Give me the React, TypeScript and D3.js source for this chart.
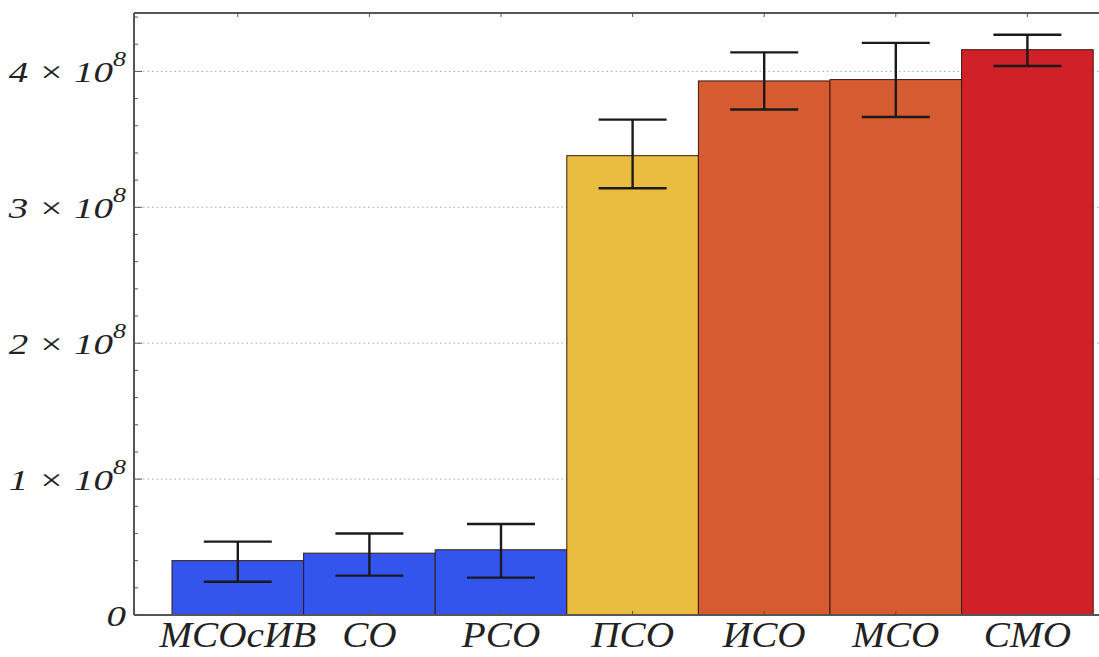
import React from 'react';
import * as d3 from 'd3';

// chart data
const categories = ['МСОсИВ', 'СО', 'РСО', 'ПСО', 'ИСО', 'МСО', 'СМО'];
const values = [0.40e8, 0.455e8, 0.48e8, 3.38e8, 3.93e8, 3.94e8, 4.16e8];
const errLow = [0.245e8, 0.29e8, 0.275e8, 3.14e8, 3.72e8, 3.665e8, 4.04e8];
const errHigh = [0.54e8, 0.60e8, 0.67e8, 3.645e8, 4.14e8, 4.21e8, 4.27e8];
const colors = ['#3355ee', '#3355ee', '#3355ee', '#e8bd40', '#d65b31', '#d65b31', '#d02128'];
const yTicks = [0, 1e8, 2e8, 3e8, 4e8];

const W = 1099;
const H = 657;

const App = () => {
  const x0 = 134;
  const top = 13;
  const bottom = 615;

  const x = d3.scaleBand<string>()
    .domain(categories)
    .range([172, 172 + 131.6 * categories.length])
    .padding(0);

  const y = d3.scaleLinear()
    .domain([0, 4.43e8])
    .range([bottom, top]);

  const minorTicks = d3.range(0, 4.43e8, 0.2e8);
  const font = '"Liberation Serif", "Times New Roman", serif';

  return (
    <svg width={W} height={H} style={{ position: 'absolute', left: 0, top: 0, background: '#fff' }}>
      {/* gridlines */}
      {yTicks.slice(1).map(t => (
        <line key={'g' + t} x1={x0} x2={W} y1={y(t)} y2={y(t)}
          stroke="#aaa" strokeWidth={1} strokeDasharray="1.5,3" />
      ))}

      {/* bars */}
      {categories.map((c, i) => (
        <rect key={c} x={x(c)} y={y(values[i])} width={x.bandwidth()}
          height={bottom - y(values[i])} fill={colors[i]} stroke="#3a1a10" strokeWidth={1} />
      ))}

      {/* error bars */}
      {categories.map((c, i) => {
        const cx = (x(c) as number) + x.bandwidth() / 2;
        return (
          <g key={'e' + c} stroke="#1a1a1a" strokeWidth={2.4}>
            <line x1={cx} x2={cx} y1={y(errLow[i])} y2={y(errHigh[i])} />
            <line x1={cx - 34} x2={cx + 34} y1={y(errLow[i])} y2={y(errLow[i])} />
            <line x1={cx - 34} x2={cx + 34} y1={y(errHigh[i])} y2={y(errHigh[i])} />
          </g>
        );
      })}

      {/* frame */}
      <g stroke="#555" strokeWidth={2} fill="none">
        <line x1={x0} x2={x0} y1={top} y2={bottom} />
        <line x1={x0} x2={W} y1={top} y2={top} />
        <line x1={x0} x2={W} y1={bottom} y2={bottom} />
      </g>

      {/* left ticks */}
      {minorTicks.map((t, i) => (
        <line key={'m' + i} x1={x0} x2={x0 + (i % 5 === 0 ? 8 : 4)} y1={y(t)} y2={y(t)}
          stroke="#555" strokeWidth={1} />
      ))}

      {/* top and bottom ticks */}
      {categories.map(c => {
        const cx = (x(c) as number) + x.bandwidth() / 2;
        return (
          <g key={'t' + c} stroke="#555" strokeWidth={1}>
            <line x1={cx} x2={cx} y1={top} y2={top + 4} />
            <line x1={cx} x2={cx} y1={bottom} y2={bottom - 4} />
          </g>
        );
      })}

      {/* y labels */}
      {yTicks.map(t => (
        <text key={'l' + t} transform={`translate(126,${y(t)}) scale(1.3,1)`} dy="0.35em" textAnchor="end"
          fontFamily={font} fontStyle="italic" fontSize={30} fill="#222">
          {t === 0 ? '0' : (
            <>
              {`${t / 1e8} × 10`}
              <tspan fontSize={20} dy="-0.8em">8</tspan>
            </>
          )}
        </text>
      ))}

      {/* x labels */}
      {categories.map(c => (
        <text key={'x' + c} transform={`translate(${(x(c) as number) + x.bandwidth() / 2},647) scale(1.12,1)`}
          textAnchor="middle" fontFamily={font} fontStyle="italic" fontSize={35} fill="#222">
          {c}
        </text>
      ))}
    </svg>
  );
};

export default App;
